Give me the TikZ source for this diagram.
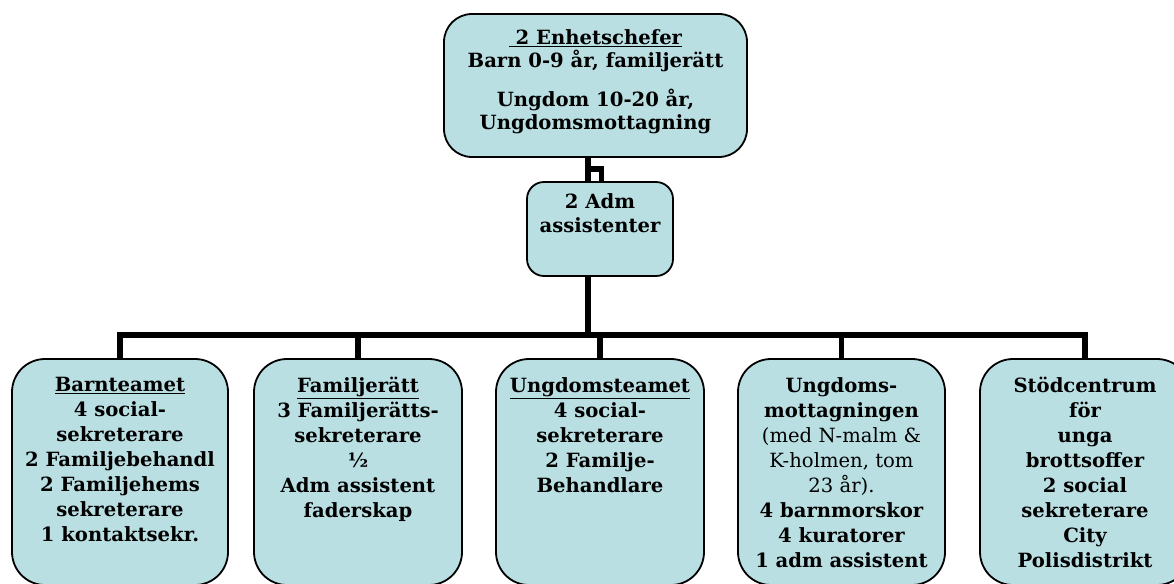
\documentclass[tikz,border=0pt]{standalone}
\usepackage{fontspec}
\setmainfont{DejaVu Serif}
\usetikzlibrary{calc}
\definecolor{boxfill}{RGB}{186,223,227}
\begin{document}
\begin{tikzpicture}[x=1pt,y=-1pt,
  box/.style={draw=black, line width=1.8pt, fill=boxfill, inner sep=0pt, outer sep=0pt},
  txt/.style={align=center, inner sep=0pt, anchor=north, font=\fontsize{19.6}{25}\selectfont\bfseries},
  conn/.style={line width=5.5pt, draw=black, line join=miter}]
\useasboundingbox (0,0) rectangle (1174,583);
\clip (0,0) rectangle (1174,583);
% boxes
\node[box, rounded corners=28pt, minimum width=303pt, minimum height=143pt] (top) at (595.5,85.5) {};
\node[box, rounded corners=17pt, minimum width=146pt, minimum height=94pt] (adm) at (600,229) {};
\node[box, rounded corners=33pt, minimum width=216pt, minimum height=226pt] (b1) at (120,472) {};
\node[box, rounded corners=33pt, minimum width=208pt, minimum height=226pt] (b2) at (358,472) {};
\node[box, rounded corners=33pt, minimum width=208pt, minimum height=226pt] (b3) at (600,472) {};
\node[box, rounded corners=33pt, minimum width=207pt, minimum height=226pt] (b4) at (841.5,472) {};
\node[box, rounded corners=33pt, minimum width=210pt, minimum height=226pt] (b5) at (1085,472) {};
% connectors
\coordinate (bus) at ($(adm.south)+(-12,59)$);
\draw[conn] ($(top.south)+(-7.5,0)$) -- ($(adm.north)+(-12,0)$);
\draw[conn] ($(top.south)+(-7.5,12)$) -| ($(adm.north)+(1.5,0)$);
\draw[conn] ($(adm.south)+(-12,0)$) -- (bus);
\foreach \c in {b1,b2,b3,b4,b5}{
  \draw[conn] (bus) -| (\c.north);
}
% texts
\node[txt, font=\fontsize{19.6}{23}\selectfont\bfseries] (topt) at ($(top.north)+(0,15)$)
  {\underline{\ 2 Enhetschefer}\\ Barn 0-9 år, familjerätt\\[16pt] Ungdom 10-20 år,\\ Ungdomsmottagning};
\node[txt, font=\fontsize{19.6}{24}\selectfont\bfseries] (admt) at ($(adm.north)+(0,11)$)
  {2 Adm\\ assistenter};
\node[txt] (b1t) at ($(b1.north)+(0,18)$)
  {\underline{Barnteamet}\\ 4 social-\\ sekreterare\\ 2 Familjebehandl\\ 2 Familjehems\\ sekreterare\\ 1 kontaktsekr.};
\node[txt] (b2t) at ($(b2.north)+(0,18)$)
  {\underline{Familjerätt}\\ 3 Familjerätts-\\ sekreterare\\ ½\\ Adm assistent\\ faderskap};
\node[txt] (b3t) at ($(b3.north)+(0,18)$)
  {\underline{Ungdomsteamet}\\ 4 social-\\ sekreterare\\ 2 Familje-\\ Behandlare};
\node[txt] (b4t) at ($(b4.north)+(0,18)$)
  {Ungdoms-\\ mottagningen\\ \mdseries(med N-malm \&\\ \mdseries K-holmen, tom\\ \mdseries 23 år).\\ \bfseries 4 barnmorskor\\ \bfseries 4 kuratorer\\ \bfseries 1 adm assistent};
\node[txt] (b5t) at ($(b5.north)+(0,18)$)
  {Stödcentrum\\ för\\ unga\\ brottsoffer\\ 2 social\\ sekreterare\\ City\\ Polisdistrikt};
\end{tikzpicture}
\end{document}
